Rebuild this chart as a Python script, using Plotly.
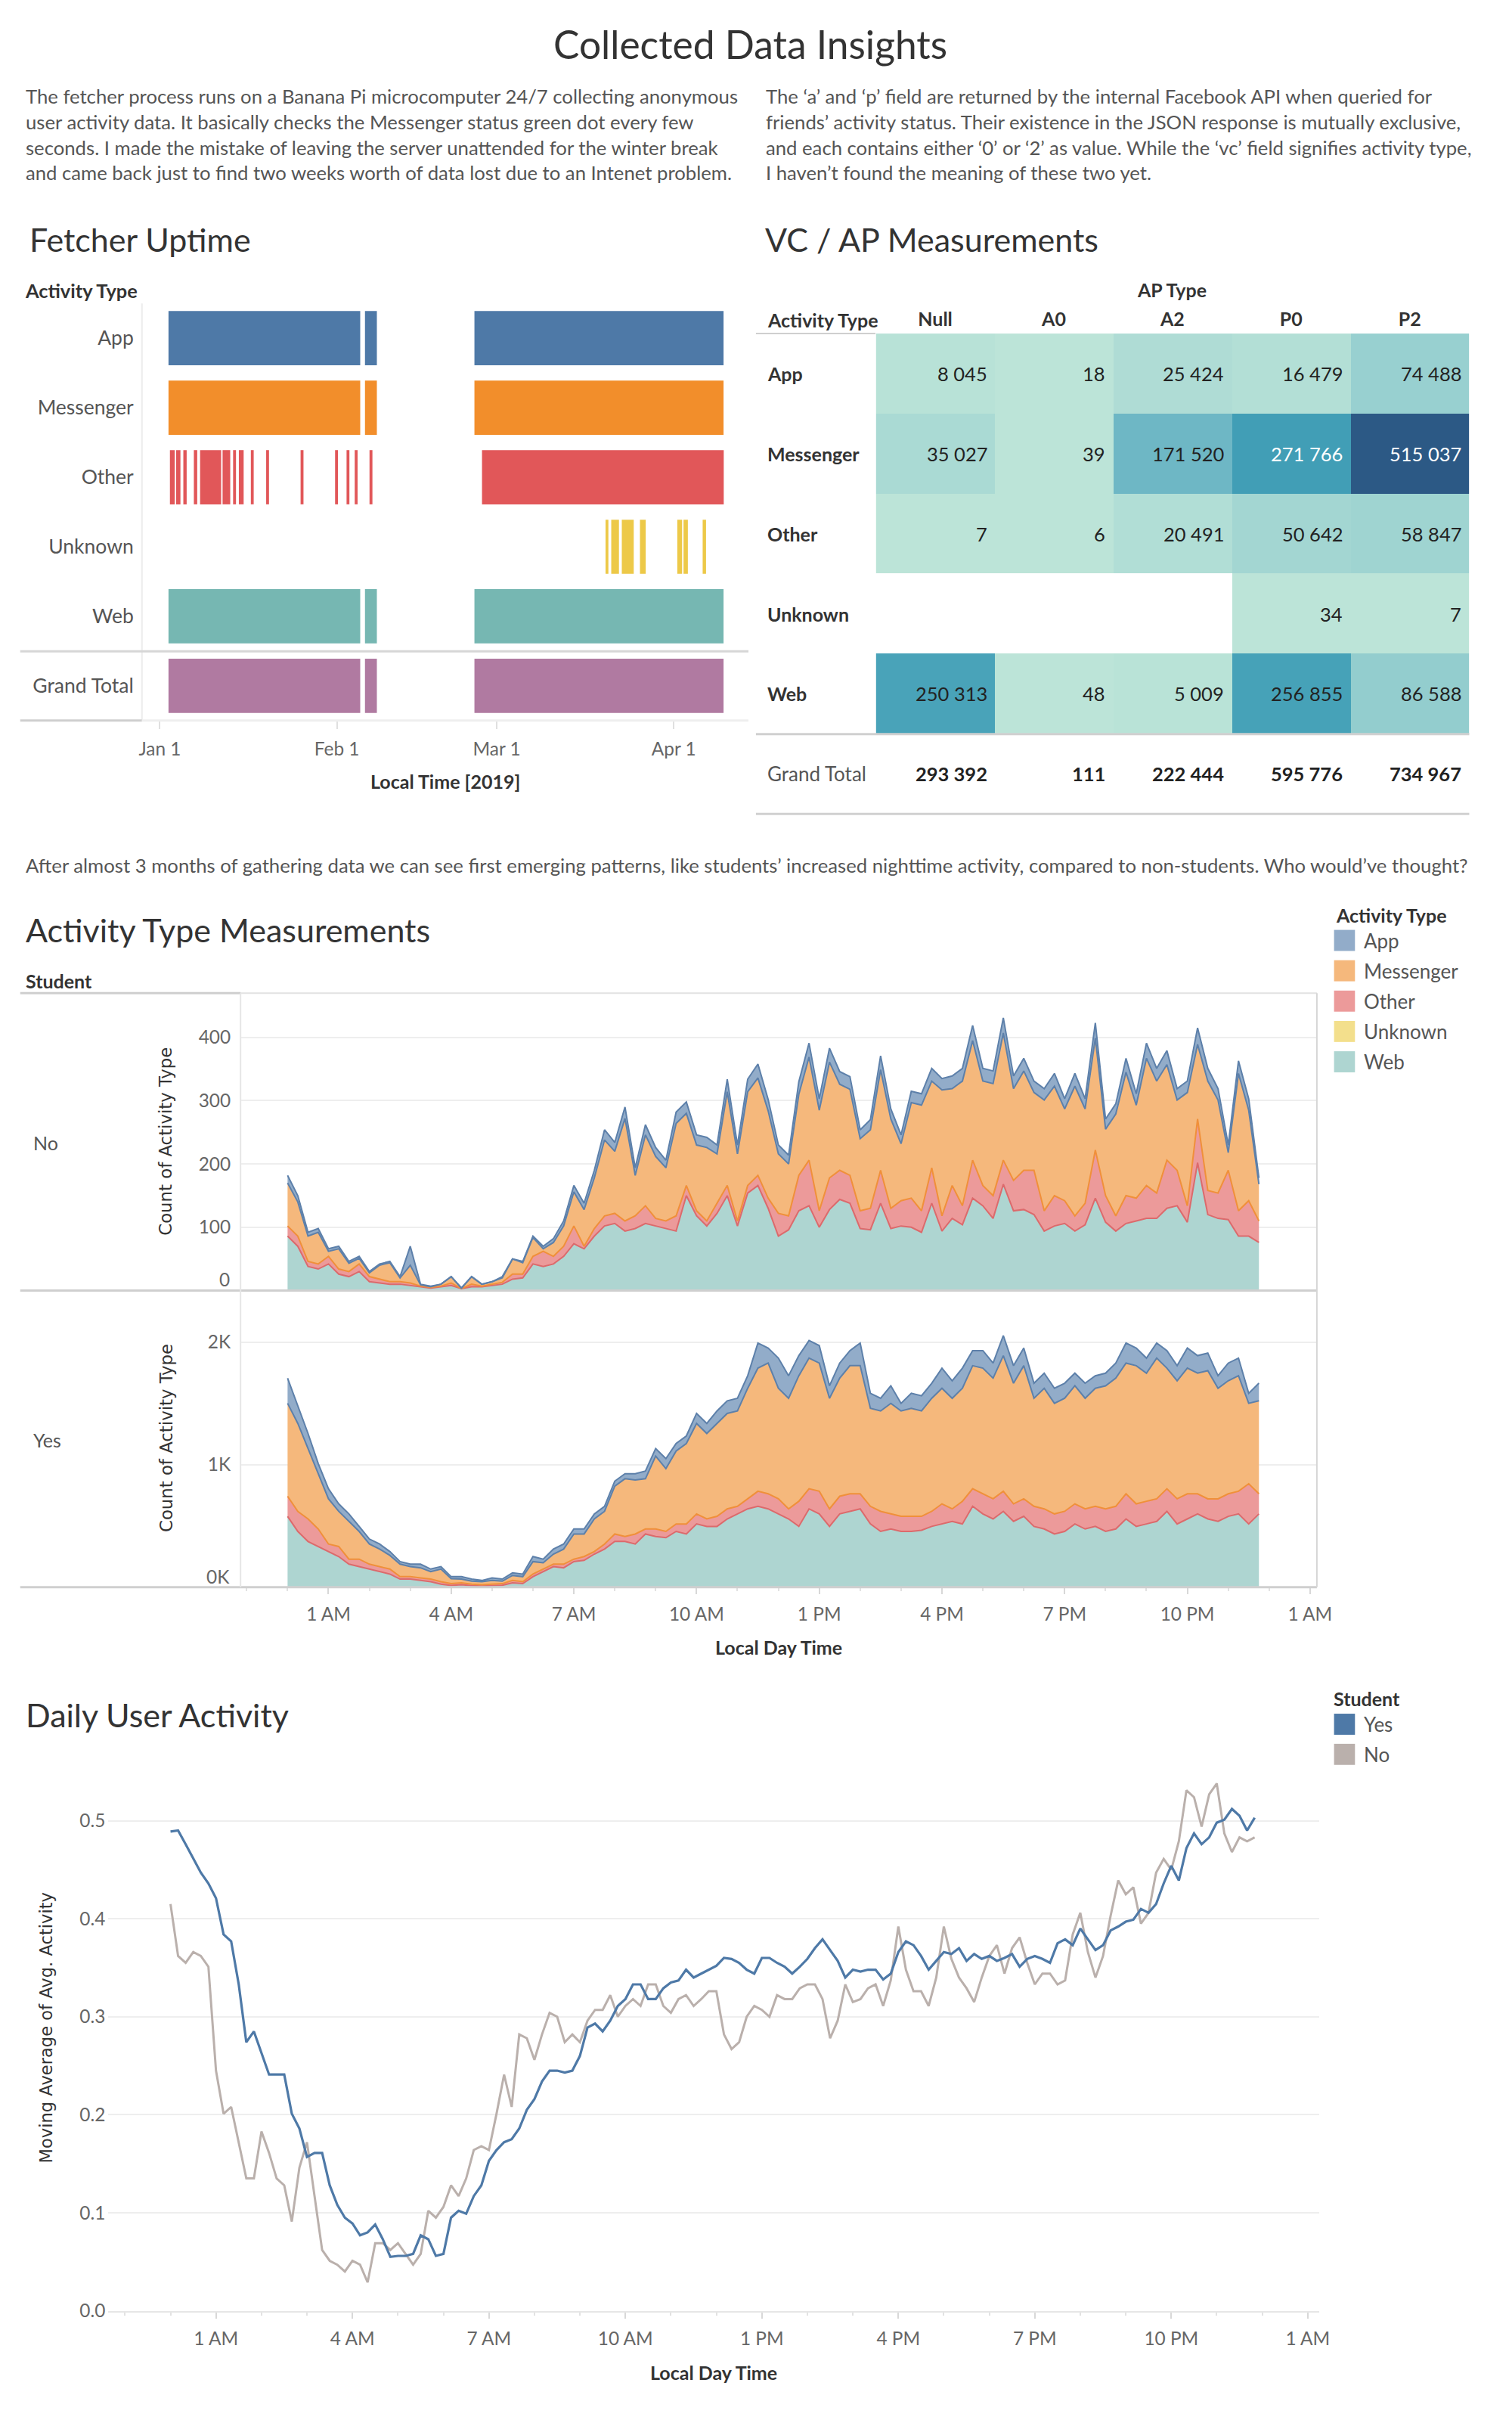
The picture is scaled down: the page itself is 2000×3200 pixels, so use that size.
import pandas as pd
import plotly.graph_objects as go

W, H = 2000, 3200
def X(p): return p / W
def Y(p): return 1 - p / H

FONT = "Lato"
TXT = "#333333"
SUB = "#555555"
AXC = "#666666"

# ---------------- text ----------------
title_text = "Collected Data Insights"
intro_left = [
    "The fetcher process runs on a Banana Pi microcomputer 24/7 collecting anonymous",
    "user activity data. It basically checks the Messenger status green dot every few",
    "seconds. I made the mistake of leaving the server unattended for the winter break",
    "and came back just to find two weeks worth of data lost due to an Intenet problem.",
]
intro_right = [
    "The \u2018a\u2019 and \u2018p\u2019 field are returned by the internal Facebook API when queried for",
    "friends\u2019 activity status. Their existence in the JSON response is mutually exclusive,",
    "and each contains either \u20180\u2019 or \u20182\u2019 as value. While the \u2018vc\u2019 field signifies activity type,",
    "I haven\u2019t found the meaning of these two yet.",
]
mid_sentence = ("After almost 3 months of gathering data we can see first emerging patterns, like students\u2019 "
                "increased nighttime activity, compared to non-students. Who would\u2019ve thought?")

# ---------------- fetcher uptime ----------------
uptime_rows = ["App", "Messenger", "Other", "Unknown", "Web", "Grand Total"]
uptime_colors = ["#4e79a7", "#f28e2b", "#e15759", "#edc948", "#76b7b2", "#b07aa1"]
main_start = ["2019-01-02 12:14", "2019-02-05 22:00", "2019-02-25 02:00"]
main_end = ["2019-02-05 02:00", "2019-02-08 00:00", "2019-04-09 17:00"]
other_start = ["2019-01-02 18:14", "2019-01-03 20:24", "2019-01-05 02:38", "2019-01-06 22:48",
               "2019-01-08 01:00", "2019-01-11 23:31", "2019-01-13 19:41", "2019-01-14 19:55",
               "2019-01-16 22:19", "2019-01-19 14:38", "2019-01-25 15:22", "2019-01-31 16:19",
               "2019-02-02 16:34", "2019-02-04 02:53", "2019-02-06 17:02", "2019-02-26 09:50"]
other_end = ["2019-01-03 14:24", "2019-01-04 14:24", "2019-01-05 16:34", "2019-01-07 12:58",
             "2019-01-11 17:31", "2019-01-13 07:41", "2019-01-14 07:55", "2019-01-15 16:05",
             "2019-01-17 10:19", "2019-01-20 02:38", "2019-01-26 03:36", "2019-02-01 04:19",
             "2019-02-03 04:34", "2019-02-04 14:53", "2019-02-07 05:17", "2019-04-09 17:46"]
unknown_start = ["2019-03-20 01:00", "2019-03-21 01:00", "2019-03-22 21:22", "2019-03-26 01:41",
                 "2019-04-01 14:38", "2019-04-02 16:48", "2019-04-06 01:12"]
unknown_end = ["2019-03-20 13:00", "2019-03-22 09:22", "2019-03-24 23:31", "2019-03-27 01:55",
               "2019-04-02 10:48", "2019-04-03 11:02", "2019-04-06 15:22"]
uptime_ticks = ["2019-01-01", "2019-02-01", "2019-03-01", "2019-04-01"]

# ---------------- VC / AP table ----------------
ap_types = ["Null", "A0", "A2", "P0", "P2"]
vc_types = ["App", "Messenger", "Other", "Unknown", "Web"]
vc_app = [8045, 18, 25424, 16479, 74488]
vc_messenger = [35027, 39, 171520, 271766, 515037]
vc_other = [7, 6, 20491, 50642, 58847]
vc_unknown = [None, None, None, 34, 7]
vc_web = [250313, 48, 5009, 256855, 86588]
vc_total = [293392, 111, 222444, 595776, 734967]
blue_teal = ["#bce4d8", "#aedcd5", "#a1d5d2", "#95cecf", "#89c8cc", "#7ec1ca", "#72bac6",
             "#66b2c2", "#59acbe", "#4ba5ba", "#419eb6", "#3b96b2", "#358ead", "#3586a7",
             "#347ea1", "#32779b", "#316f96", "#2f6790", "#2d608a", "#2c5985"]

# ---------------- activity type measurements (15-min bins) ----------------
act_types = ["App", "Messenger", "Other", "Unknown", "Web"]
act_legend_colors = ["#92acc9", "#f5b87c", "#ec9a9a", "#f3df8c", "#aed5d1"]

no_app = [12, 10, 6, 6, 4, 4, 3, 3, 2, 2, 2, 2, 30, 1, 1, 0, 0, 0, 0, 0, 0, 2, 0, 2,
          2, 4, 6, 8, 10, 10, 12, 16, 14, 18, 12, 16, 14, 12, 18, 18, 16, 16, 14, 20, 14, 20, 22, 18,
          14, 14, 20, 22, 18, 22, 20, 20, 14, 16, 22, 16, 14, 18, 18, 20, 18, 20, 20, 24, 20, 20, 24, 20,
          20, 18, 18, 20, 16, 20, 16, 24, 16, 16, 22, 18, 24, 20, 22, 18, 18, 26, 20, 18, 12, 20, 18, 10]
no_messenger = [68, 54, 40, 50, 8, 32, 13, 9, 6, 22, 30, 6, 28, 2, 1, 3, 10, 1, 12, 3, 4, 7, 24, 18,
                30, 4, 22, 32, 54, 58, 80, 120, 98, 162, 64, 112, 98, 84, 146, 114, 104, 116, 78, 148, 106, 148, 154, 138,
                94, 82, 128, 163, 159, 183, 136, 136, 114, 124, 159, 141, 90, 151, 167, 137, 199, 153, 197, 189, 165, 177, 201, 145,
                157, 123, 175, 173, 145, 205, 149, 177, 105, 161, 195, 147, 201, 177, 151, 111, 179, 118, 173, 147, 28, 217, 143, 58]
no_other = [16, 16, 8, 8, 12, 8, 8, 12, 8, 6, 4, 4, 4, 1, 1, 1, 4, 0, 4, 1, 2, 3, 8, 6,
            12, 24, 12, 16, 28, 4, 12, 16, 16, 16, 20, 28, 12, 12, 24, 16, 8, 8, 16, 16, 8, 12, 16, 16,
            36, 22, 56, 72, 26, 50, 46, 44, 28, 34, 52, 32, 40, 46, 34, 56, 24, 52, 30, 60, 32, 36, 38, 48,
            62, 70, 32, 48, 36, 24, 34, 76, 42, 24, 44, 36, 52, 40, 76, 56, 26, 69, 38, 40, 78, 40, 56, 34]
no_web = [86, 70, 38, 34, 42, 26, 22, 30, 14, 12, 10, 10, 8, 6, 4, 6, 8, 3, 6, 6, 8, 10, 18, 20,
          42, 38, 42, 54, 74, 66, 86, 102, 106, 94, 98, 106, 102, 98, 94, 150, 118, 102, 122, 150, 102, 154, 166, 130,
          86, 96, 126, 134, 100, 128, 144, 138, 98, 96, 138, 98, 102, 100, 92, 138, 94, 114, 104, 146, 134, 114, 168, 126,
          128, 120, 94, 102, 106, 94, 104, 146, 108, 94, 106, 110, 114, 114, 130, 134, 108, 202, 120, 114, 112, 86, 86, 76]

yes_app = [205, 143, 123, 82, 82, 61, 61, 41, 41, 41, 31, 21, 20, 30, 21, 20, 16, 20, 17, 10, 21, 17, 21, 21,
           41, 30, 41, 41, 41, 41, 41, 41, 41, 41, 51, 62, 61, 82, 61, 62, 82, 82, 102, 102, 103, 102, 205, 123,
           246, 184, 164, 143, 143, 102, 123, 123, 185, 123, 103, 143, 62, 123, 123, 123, 164, 143, 164, 123, 143, 123, 164, 143,
           144, 123, 123, 123, 123, 103, 123, 102, 103, 123, 164, 144, 123, 123, 143, 123, 164, 143, 144, 102, 144, 144, 82, 143]
yes_messenger = [758, 717, 574, 451, 369, 287, 308, 226, 164, 143, 112, 102, 82, 82, 61, 103, 41, 31, 24, 25, 30, 20, 41, 41,
                 102, 51, 82, 123, 205, 184, 266, 267, 390, 471, 441, 410, 595, 512, 595, 656, 738, 697, 758, 779, 778, 902, 1004, 1066,
                 902, 902, 1024, 1066, 1045, 902, 963, 1045, 1045, 799, 819, 902, 860, 881, 860, 922, 943, 902, 922, 1004, 1025, 984, 1106, 984,
                 1086, 881, 984, 902, 922, 963, 902, 963, 1004, 1045, 1066, 1127, 1045, 1148, 984, 963, 1025, 984, 1045, 902, 922, 942, 656, 759]
yes_other = [164, 164, 184, 143, 61, 82, 41, 61, 40, 41, 41, 20, 20, 21, 21, 20, 15, 15, 13, 10, 11, 13, 20, 16,
             21, 21, 20, 30, 20, 31, 21, 41, 61, 41, 82, 41, 61, 51, 61, 82, 82, 61, 82, 82, 62, 82, 123, 123,
             123, 82, 205, 164, 185, 143, 144, 143, 123, 144, 164, 123, 123, 123, 113, 123, 164, 102, 185, 143, 164, 164, 164, 143,
             143, 164, 164, 164, 164, 164, 164, 164, 184, 185, 205, 184, 185, 184, 184, 205, 205, 164, 164, 184, 184, 185, 328, 164]
yes_web = [578, 455, 373, 332, 291, 250, 188, 168, 148, 127, 107, 66, 66, 55, 45, 25, 14, 20, 12, 10, 14, 16, 35, 29,
           86, 127, 168, 158, 209, 219, 270, 311, 373, 373, 352, 434, 414, 404, 455, 434, 516, 496, 496, 557, 598, 639, 660, 639,
           598, 557, 496, 639, 598, 496, 598, 619, 639, 516, 455, 475, 455, 455, 465, 496, 516, 537, 516, 660, 598, 557, 619, 537,
           578, 496, 475, 434, 455, 516, 475, 496, 455, 475, 557, 496, 516, 537, 619, 516, 557, 598, 557, 537, 578, 598, 516, 598]
no_ticks = [0, 100, 200, 300, 400]
yes_ticks = [0, 1000, 2000]
yes_ticktext = ["0K", "1K", "2K"]

# ---------------- daily user activity (10-min moving average) ----------------
student_yes = [0.489, 0.490, 0.476, 0.461, 0.447, 0.436, 0.421, 0.384, 0.377, 0.333, 0.274, 0.285,
               0.263, 0.241, 0.241, 0.241, 0.201, 0.186, 0.157, 0.161, 0.161, 0.128, 0.108, 0.095,
               0.089, 0.077, 0.080, 0.088, 0.073, 0.055, 0.056, 0.056, 0.058, 0.077, 0.073, 0.056,
               0.058, 0.095, 0.102, 0.099, 0.117, 0.128, 0.153, 0.164, 0.172, 0.175, 0.186, 0.205,
               0.216, 0.234, 0.245, 0.245, 0.243, 0.245, 0.260, 0.289, 0.293, 0.285, 0.296, 0.311,
               0.318, 0.333, 0.333, 0.318, 0.318, 0.329, 0.335, 0.337, 0.348, 0.340, 0.344, 0.348,
               0.352, 0.360, 0.359, 0.355, 0.348, 0.344, 0.360, 0.360, 0.355, 0.351, 0.344, 0.351,
               0.359, 0.370, 0.379, 0.368, 0.357, 0.340, 0.348, 0.346, 0.348, 0.348, 0.338, 0.344,
               0.366, 0.377, 0.373, 0.362, 0.348, 0.357, 0.366, 0.364, 0.370, 0.357, 0.364, 0.359,
               0.362, 0.357, 0.360, 0.364, 0.351, 0.359, 0.362, 0.359, 0.355, 0.375, 0.379, 0.373,
               0.390, 0.379, 0.368, 0.373, 0.388, 0.392, 0.397, 0.399, 0.410, 0.406, 0.415, 0.436,
               0.454, 0.439, 0.472, 0.487, 0.476, 0.483, 0.498, 0.501, 0.512, 0.505, 0.490, 0.503]
student_no = [0.415, 0.362, 0.355, 0.366, 0.362, 0.351, 0.245, 0.201, 0.208, 0.172, 0.135, 0.135,
              0.183, 0.161, 0.135, 0.128, 0.091, 0.146, 0.172, 0.117, 0.062, 0.051, 0.047, 0.040,
              0.051, 0.047, 0.029, 0.069, 0.069, 0.062, 0.069, 0.058, 0.047, 0.058, 0.102, 0.095,
              0.106, 0.128, 0.117, 0.135, 0.164, 0.168, 0.164, 0.201, 0.241, 0.208, 0.282, 0.278,
              0.256, 0.282, 0.304, 0.300, 0.274, 0.282, 0.274, 0.296, 0.307, 0.307, 0.322, 0.300,
              0.311, 0.318, 0.311, 0.333, 0.333, 0.311, 0.304, 0.318, 0.322, 0.311, 0.318, 0.326,
              0.326, 0.282, 0.267, 0.274, 0.300, 0.311, 0.307, 0.300, 0.322, 0.318, 0.318, 0.329,
              0.333, 0.333, 0.318, 0.278, 0.296, 0.333, 0.315, 0.318, 0.329, 0.333, 0.311, 0.337,
              0.392, 0.348, 0.326, 0.326, 0.311, 0.340, 0.392, 0.359, 0.340, 0.329, 0.315, 0.340,
              0.362, 0.373, 0.344, 0.370, 0.381, 0.355, 0.333, 0.344, 0.344, 0.333, 0.337, 0.384,
              0.406, 0.366, 0.340, 0.362, 0.403, 0.439, 0.425, 0.432, 0.395, 0.406, 0.447, 0.461,
              0.450, 0.479, 0.531, 0.524, 0.494, 0.527, 0.538, 0.487, 0.468, 0.483, 0.479, 0.483]
student_names = ["Yes", "No"]
student_colors = ["#4e79a7", "#bab0ac"]

act_times = pd.date_range("2019-01-01 00:00", periods=len(no_web), freq="15min")
day_times = pd.date_range("2019-01-01 00:00", periods=len(student_yes), freq="10min")

# =====================================================================
fig = go.Figure()
annotations = []
shapes = []

def txt(x, y, text, size=23, color=SUB, xanchor="left", bold=False, family=FONT, angle=0):
    annotations.append(dict(
        x=X(x), y=Y(y), xref="paper", yref="paper",
        text=("<b>%s</b>" % text) if bold else text, showarrow=False,
        xanchor=xanchor, yanchor="middle", textangle=angle,
        font=dict(family=family, size=size, color=color)))

def line(x0, y0, x1, y1, color="#d4d4d4", width=2):
    shapes.append(dict(type="line", xref="paper", yref="paper", x0=X(x0), y0=Y(y0), x1=X(x1), y1=Y(y1),
                       line=dict(color=color, width=width)))

PARA = 25.7
SEC = 43
# ---- header texts
txt(1000, 58, title_text, size=51.5, color=TXT, xanchor="center")
for i, s in enumerate(intro_left):
    txt(28, 128 + i * 33.7, s, size=PARA, color=SUB)
for i, s in enumerate(intro_right):
    txt(1019, 128 + i * 33.7, s, size=PARA, color=SUB)
txt(28, 1149, mid_sentence, size=PARA, color=SUB)

# ---- fetcher uptime
txt(33, 318, "Fetcher Uptime", size=SEC, color=TXT)
txt(27, 386, "Activity Type", size=25.4, color=TXT, bold=True)

def add_periods(row, starts, ends, color):
    s = pd.to_datetime(starts)
    e = pd.to_datetime(ends)
    dur = [(b - a).total_seconds() * 1000 for a, b in zip(s, e)]
    fig.add_trace(go.Bar(y=[row] * len(starts), base=starts, x=dur, orientation="h",
                         marker=dict(color=color, line=dict(width=0)), xaxis="x", yaxis="y",
                         showlegend=False, hoverinfo="skip"))

add_periods("App", main_start, main_end, uptime_colors[0])
add_periods("Messenger", main_start, main_end, uptime_colors[1])
add_periods("Other", other_start, other_end, uptime_colors[2])
add_periods("Unknown", unknown_start, unknown_end, uptime_colors[3])
add_periods("Web", main_start, main_end, uptime_colors[4])
add_periods("Grand Total", main_start, main_end, uptime_colors[5])
txt(592, 1038, "Local Time [2019]", size=25, color=TXT, bold=True, xanchor="center")
line(186, 403, 186, 957, "#ececec", 2)
line(23, 865, 998, 865, "#d6d6d6", 3)
line(23, 957, 186, 957, "#cfcfcf", 3)
line(186, 957, 998, 957, "#efefef", 3)

# ---- VC / AP table
txt(1018, 318, "VC / AP Measurements", size=SEC, color=TXT)
txt(1565, 385, "AP Type", size=25, color=TXT, bold=True, xanchor="center")
txt(1021, 425, "Activity Type", size=25, color=TXT, bold=True)
z = [vc_app, vc_messenger, vc_other, vc_unknown, vc_web]
zmax = max(max(v for v in r if v is not None) for r in z)
cs = [[i / (len(blue_teal) - 1), c] for i, c in enumerate(blue_teal)]
fig.add_trace(go.Heatmap(z=z, x=list(range(len(ap_types))), y=list(range(len(vc_types))),
                         colorscale=cs, zmin=0, zmax=zmax, showscale=False, xgap=0, ygap=0,
                         xaxis="x2", yaxis="y2", hoverinfo="skip"))
def fmt(v):
    return "{:,}".format(v).replace(",", " ")
for r, row in enumerate(z):
    for c, v in enumerate(row):
        if v is None:
            continue
        annotations.append(dict(x=c + 0.5, y=r, xref="x2", yref="y2", text=fmt(v), showarrow=False,
                                xanchor="right", yanchor="middle", xshift=-8,
                                font=dict(family=FONT, size=25.5, color="white" if v > 260000 else "#222222")))
for c, v in enumerate(vc_total):
    annotations.append(dict(x=c + 0.5, y=len(vc_types), xref="x2", yref="y2", text="<b>%s</b>" % fmt(v),
                            showarrow=False, xanchor="right", yanchor="middle", xshift=-8,
                            font=dict(family=FONT, size=25.5, color="#222222")))
for r, name in enumerate(vc_types):
    annotations.append(dict(x=X(1021), y=r, xref="paper", yref="y2", text="<b>%s</b>" % name, showarrow=False,
                            xanchor="left", yanchor="middle", font=dict(family=FONT, size=25, color=TXT)))
annotations.append(dict(x=X(1021), y=len(vc_types), xref="paper", yref="y2", text="Grand Total", showarrow=False,
                        xanchor="left", yanchor="middle", font=dict(family=FONT, size=26, color=SUB)))
line(1008, 443, 1168, 443, "#cfcfcf", 2)
line(1008, 975, 1963, 975, "#d0d0d0", 3)
line(1008, 1081, 1963, 1081, "#d0d0d0", 3)

# ---- activity type measurements
txt(28, 1235, "Activity Type Measurements", size=SEC, color=TXT)
txt(28, 1303, "Student", size=25, color=TXT, bold=True)
panels = [("x3", "y3", "no", [no_web, no_other, no_messenger, no_app]),
          ("x4", "y4", "yes", [yes_web, yes_other, yes_messenger, yes_app])]
fill_cols = ["#aed5d1", "#ec9a9a", "#f5b87c", "#92acc9"]
edge_cols = ["#dc6a6c", "#f0903a", "#5d80aa", "#5d80aa"]
for xa, ya, grp, series in panels:
    for vals, fc, ec in zip(series, fill_cols, edge_cols):
        fig.add_trace(go.Scatter(x=act_times, y=vals, mode="lines", stackgroup=grp,
                                 line=dict(color=ec, width=2), fillcolor=fc,
                                 xaxis=xa, yaxis=ya, showlegend=False, hoverinfo="skip"))
# zero labels sit just above the baseline, as in the original
annotations.append(dict(x=0, y=no_ticks[0], xref="x3 domain", yref="y3", text=str(no_ticks[0]), showarrow=False,
                        xanchor="right", yanchor="bottom", xshift=-12, yshift=-2,
                        font=dict(family=FONT, size=24.4, color=AXC)))
annotations.append(dict(x=0, y=yes_ticks[0], xref="x4 domain", yref="y4", text=yes_ticktext[0], showarrow=False,
                        xanchor="right", yanchor="bottom", xshift=-12, yshift=-2,
                        font=dict(family=FONT, size=24.4, color=AXC)))
txt(38, 1518, "No", size=25, color=SUB)
txt(38, 1912, "Yes", size=25, color=SUB)
txt(218, 1516, "Count of Activity Type", size=22.8, color=TXT, family="DejaVu Sans", angle=-90, xanchor="center")
txt(218, 1910, "Count of Activity Type", size=22.8, color=TXT, family="DejaVu Sans", angle=-90, xanchor="center")
txt(1038, 2188, "Local Day Time", size=25, color=TXT, bold=True, xanchor="center")
line(318, 1319, 1759, 1319, "#e2e2e2", 2)
line(23, 1319, 318, 1319, "#cfcfcf", 3)
line(23, 1714, 1759, 1714, "#cfcfcf", 3)
line(23, 2108, 1759, 2108, "#cfcfcf", 3)
line(318, 1319, 318, 2108, "#e6e6e6", 2)
line(1759, 1319, 1759, 2108, "#d6d6d6", 2)

# legend: activity type
txt(1782, 1215, "Activity Type", size=25, color=TXT, bold=True)
for i, (name, col) in enumerate(zip(act_types, act_legend_colors)):
    yc = 1249 + i * 40.3
    shapes.append(dict(type="rect", xref="paper", yref="paper", x0=X(1782), x1=X(1810),
                       y0=Y(yc - 14), y1=Y(yc + 14), fillcolor=col, line=dict(width=0)))
    txt(1820, yc, name, size=26, color=SUB)

# ---- daily user activity
txt(28, 2277, "Daily User Activity", size=SEC, color=TXT)
for name, vals, col, wdt in [("No", student_no, student_colors[1], 3), ("Yes", student_yes, student_colors[0], 3.2)]:
    fig.add_trace(go.Scatter(x=day_times, y=vals, mode="lines", line=dict(color=col, width=wdt),
                             xaxis="x5", yaxis="y5", showlegend=False, hoverinfo="skip", name=name))
txt(58, 2693, "Moving Average of Avg. Activity", size=22.6, color=TXT, family="DejaVu Sans", angle=-90, xanchor="center")
txt(951, 3151, "Local Day Time", size=25, color=TXT, bold=True, xanchor="center")
txt(1779, 2256, "Student", size=25, color=TXT, bold=True)
for i, (name, col) in enumerate(zip(student_names, student_colors)):
    yc = 2290 + i * 40
    shapes.append(dict(type="rect", xref="paper", yref="paper", x0=X(1782), x1=X(1810),
                       y0=Y(yc - 14), y1=Y(yc + 14), fillcolor=col, line=dict(width=0)))
    txt(1820, yc, name, size=26, color=SUB)

# ---------------- axes ----------------
tickf = dict(family=FONT, size=24.4, color=AXC)
time_axis = dict(type="date", tickformat="%-I %p", tick0="2019-01-01 01:00", dtick=3 * 3600000,
                 showgrid=False, zeroline=False, showline=False, tickfont=tickf,
                 ticks="outside", ticklen=8, tickcolor="#d8d8d8", tickwidth=2,
                 minor=dict(ticks="outside", dtick=3600000, ticklen=4, tickcolor="#e2e2e2", tickwidth=2),
                 ticklabelstandoff=6)

fig.update_layout(
    width=W, height=H, autosize=False, margin=dict(l=0, r=0, t=0, b=0),
    paper_bgcolor="white", plot_bgcolor="white", showlegend=False,
    barmode="overlay", bargap=0.22,
    font=dict(family=FONT, color=SUB),
    annotations=annotations, shapes=shapes,
    xaxis=dict(domain=[X(186), X(998)], anchor="y", type="date",
               range=["2018-12-28 20:40", "2019-04-14 01:40"], tickvals=uptime_ticks,
               tickformat="%b %-d", showgrid=False, zeroline=False, showline=False,
               ticks="outside", ticklen=10, tickcolor="#e0e0e0", tickwidth=2, tickfont=tickf,
               ticklabelstandoff=6),
    yaxis=dict(domain=[Y(957), Y(403)], anchor="x", categoryorder="array", categoryarray=uptime_rows,
               autorange="reversed", showgrid=False, zeroline=False, showline=False, ticks="",
               tickfont=dict(family=FONT, size=26.5, color=SUB), ticklabelstandoff=10),
    xaxis2=dict(domain=[X(1168.6), X(1962.8)], anchor="y2", range=[-0.5, len(ap_types) - 0.5],
                tickvals=list(range(len(ap_types))), ticktext=["<b>%s</b>" % a for a in ap_types],
                side="top", showgrid=False, zeroline=False, showline=False, ticks="",
                tickfont=dict(family=FONT, size=25, color=TXT), ticklabelstandoff=4),
    yaxis2=dict(domain=[Y(1081), Y(443)], anchor="x2", range=[len(vc_types) + 0.5, -0.5],
                showgrid=False, zeroline=False, showline=False, showticklabels=False, ticks=""),
    xaxis3=dict(time_axis, domain=[X(318), X(1759)], anchor="y3",
                range=["2018-12-31 22:51", "2019-01-02 01:10"], showticklabels=False, ticks="",
                minor=dict(ticks="")),
    yaxis3=dict(domain=[Y(1714), Y(1319)], anchor="x3", range=[0, 470], tickvals=no_ticks[1:],
                showgrid=True, gridcolor="#eeeeee", gridwidth=2, zeroline=False, showline=False,
                tickfont=tickf, ticks="", ticklabelstandoff=12),
    xaxis4=dict(time_axis, domain=[X(318), X(1759)], anchor="y4",
                range=["2018-12-31 22:51", "2019-01-02 01:10"]),
    yaxis4=dict(domain=[Y(2108), Y(1714)], anchor="x4", range=[0, 2420], tickvals=yes_ticks[1:],
                ticktext=yes_ticktext[1:], showgrid=True, gridcolor="#eeeeee", gridwidth=2,
                zeroline=False, showline=False, tickfont=tickf, ticks="", ticklabelstandoff=12),
    xaxis5=dict(time_axis, domain=[X(141), X(1762)], anchor="y5",
                range=["2018-12-31 22:38", "2019-01-02 01:15"], showline=True, linecolor="#e6e6e6",
                linewidth=2),
    yaxis5=dict(domain=[Y(3069), Y(2327)], anchor="x5", range=[0, 0.57],
                tickvals=[0, 0.1, 0.2, 0.3, 0.4, 0.5], tickformat=".1f", showgrid=True,
                gridcolor="#eeeeee", gridwidth=2, zeroline=False, showline=False, tickfont=tickf,
                ticks="", ticklabelstandoff=3),
)

fig.write_html("out.html", config={"displayModeBar": False},
               post_script="document.body.style.margin='0';")
